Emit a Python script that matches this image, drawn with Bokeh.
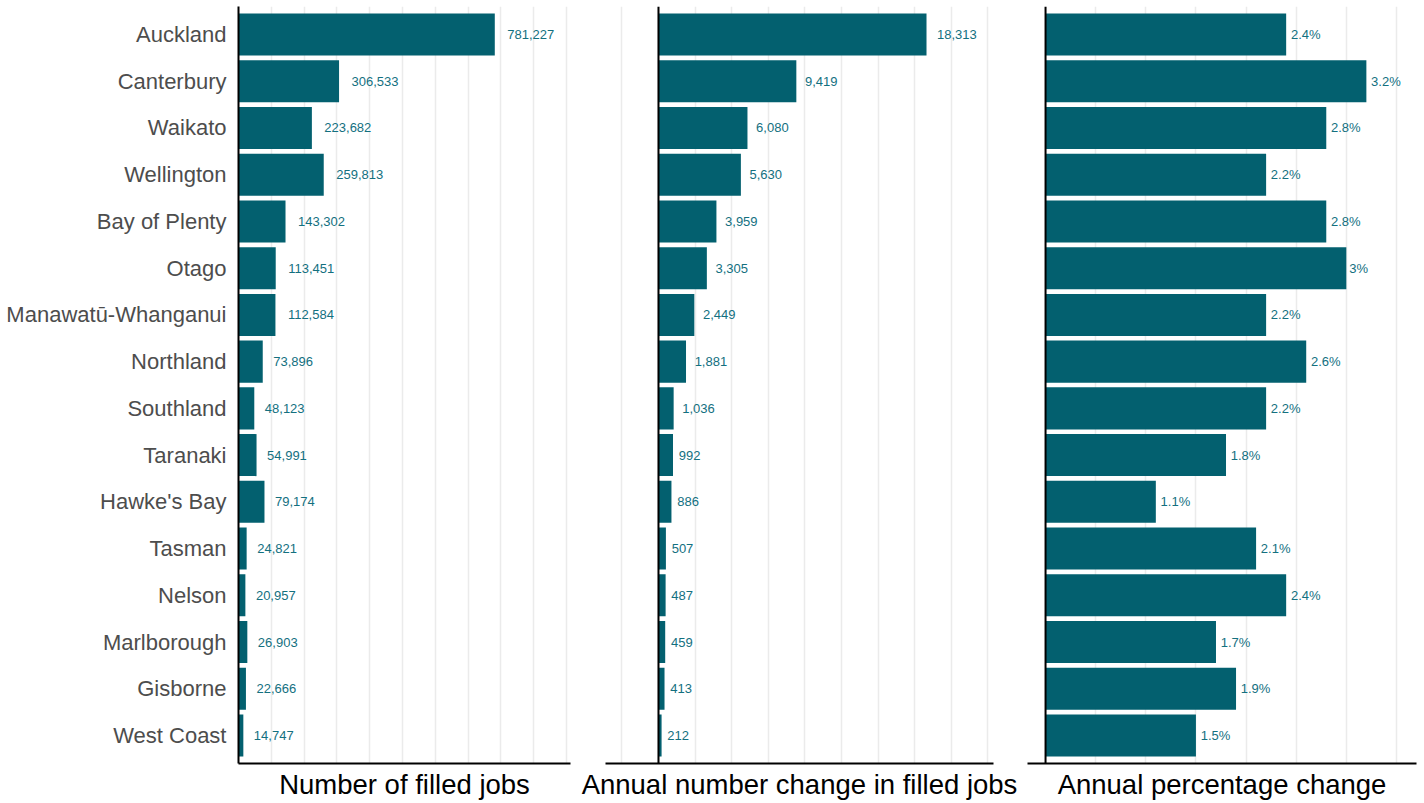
from bokeh.plotting import figure
from bokeh.models import ColumnDataSource, Range1d, FixedTicker, Span
from bokeh.layouts import row
from bokeh.embed import file_html
from bokeh.resources import INLINE

regions = ["Auckland", "Canterbury", "Waikato", "Wellington", "Bay of Plenty", "Otago",
           "Manawatū-Whanganui", "Northland", "Southland", "Taranaki", "Hawke's Bay",
           "Tasman", "Nelson", "Marlborough", "Gisborne", "West Coast"]
filled_jobs = [781227, 306533, 223682, 259813, 143302, 113451, 112584, 73896,
               48123, 54991, 79174, 24821, 20957, 26903, 22666, 14747]
annual_change = [18313, 9419, 6080, 5630, 3959, 3305, 2449, 1881,
                 1036, 992, 886, 507, 487, 459, 413, 212]
pct_change = [2.4, 3.2, 2.8, 2.2, 2.8, 3.0, 2.2, 2.6, 2.2, 1.8, 1.1, 2.1, 2.4, 1.7, 1.9, 1.5]

titles = ["Number of filled jobs", "Annual number change in filled jobs", "Annual percentage change"]
grid1 = [100000 * i for i in range(1, 11)]
grid2 = [-2500 + 2500 * i for i in range(11)]
grid3 = [0.5 * i for i in range(1, 8)]

BAR = "#03606F"
LABEL_COLOR = "#13707F"
FONT = "Liberation Sans"
LABEL_SIZE = 13
n = len(regions)
ypos = list(range(n))


def text_width(s, size):
    w = {".": 0.278, ",": 0.278, "%": 0.889}
    return sum(w.get(c, 0.556) for c in s) * size


def make_panel(values, labels, title, xr, grid, width, left, right, k, show_y):
    p = figure(width=width, height=803, x_range=Range1d(*xr), y_range=Range1d(n - 0.4, -0.6),
               output_backend="svg", toolbar_location=None,
               min_border_left=left, min_border_right=right, min_border_top=6, min_border_bottom=40)
    p.outline_line_color = None
    p.background_fill_color = "white"
    p.border_fill_color = "white"
    offs = [k * text_width(s, LABEL_SIZE) for s in labels]
    src = ColumnDataSource(dict(y=ypos, v=values, lab=labels, off=offs))
    p.hbar(y="y", left=0, right="v", height=0.9, source=src, fill_color=BAR, line_color=None)
    p.text(x="v", y="y", text="lab", x_offset="off", source=src, text_baseline="middle",
           text_align="left", text_font_size=f"{LABEL_SIZE}px", text_color=LABEL_COLOR,
           text_font={"value": FONT})
    # grid
    p.ygrid.visible = False
    p.xgrid.ticker = FixedTicker(ticks=grid)
    p.xgrid.grid_line_color = "#ebebeb"
    p.xgrid.grid_line_width = 1.5
    # x axis
    xa = p.xaxis[0]
    xa.ticker = FixedTicker(ticks=[])
    xa.axis_label = title
    xa.axis_label_text_font = FONT
    xa.axis_label_text_font_size = "27.5px"
    xa.axis_label_text_font_style = "normal"
    xa.axis_label_text_color = "black"
    xa.axis_label_standoff = 5
    xa.axis_line_color = "black"
    xa.axis_line_width = 2
    xa.major_tick_out = 0
    xa.major_tick_in = 0
    xa.minor_tick_out = 0
    xa.minor_tick_in = 0
    xa.major_label_standoff = 0
    # y axis
    ya = p.yaxis[0]
    if show_y:
        ya.ticker = FixedTicker(ticks=ypos)
        ya.major_label_overrides = {i: r for i, r in enumerate(regions)}
        ya.major_label_text_font = FONT
        ya.major_label_text_font_size = "22px"
        ya.major_label_text_color = "#4d4d4d"
        ya.major_label_standoff = 12
        ya.major_tick_out = 0
        ya.major_tick_in = 0
        ya.minor_tick_out = 0
        ya.minor_tick_in = 0
        ya.axis_line_color = "black"
        ya.axis_line_width = 2
    else:
        ya.visible = False
        p.add_layout(Span(location=0, dimension="height", line_color="black", line_width=2))
    return p


lab1 = [f"{v:,}" for v in filled_jobs]
lab2 = [f"{v:,}" for v in annual_change]
lab3 = [f"{v:g}%" for v in pct_change]

p1 = make_panel(filled_jobs, lab1, titles[0], (0, 1012000), grid1, 580, 238, 10, 0.265, True)
p2 = make_panel(annual_change, lab2, titles[1], (-3620, 22890), grid2, 438, 25, 25, 0.265, False)
p3 = make_panel(pct_change, lab3, titles[2], (-0.18, 3.70), grid3, 406, 9, 8, 0.16, False)

layout = row(p1, p2, p3)
open("out.html", "w").write(file_html(layout, INLINE))
